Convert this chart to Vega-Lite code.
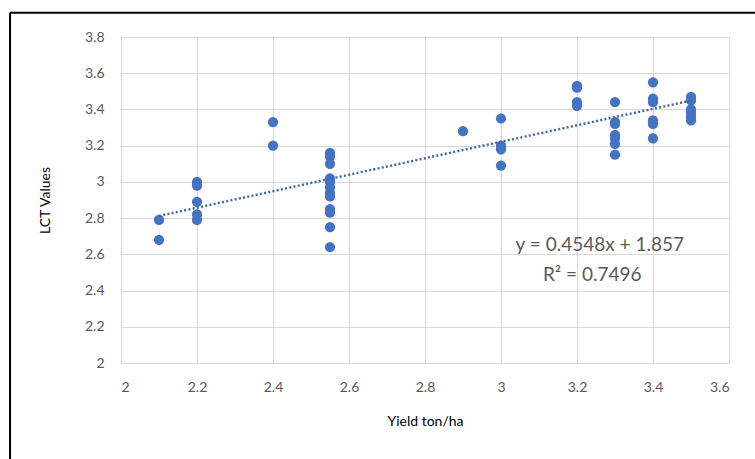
{
  "$schema": "https://vega.github.io/schema/vega-lite/v6.json",
  "width": 608,
  "height": 326,
  "autosize": "none",
  "padding": {"left": 121, "top": 37, "right": 26, "bottom": 96},
  "background": "white",
  "config": {
    "view": {"stroke": null},
    "font": "Lato",
    "axis": {
      "gridColor": "#d9d9d9",
      "gridWidth": 1,
      "domain": false,
      "ticks": false,
      "labelOverlap": false,
      "labelFont": "Lato",
      "labelFontSize": 14,
      "labelColor": "#595959",
      "titleFont": "Lato",
      "titleFontSize": 14,
      "titleFontWeight": "normal",
      "titleColor": "#000000"
    }
  },
  "datasets": {
    "pts": [
      {"yield": 2.1, "lct": 2.79}, {"yield": 2.1, "lct": 2.68},
      {"yield": 2.2, "lct": 3.00}, {"yield": 2.2, "lct": 2.98}, {"yield": 2.2, "lct": 2.89}, {"yield": 2.2, "lct": 2.82}, {"yield": 2.2, "lct": 2.79},
      {"yield": 2.4, "lct": 3.33}, {"yield": 2.4, "lct": 3.20},
      {"yield": 2.55, "lct": 3.16}, {"yield": 2.55, "lct": 3.14}, {"yield": 2.55, "lct": 3.10}, {"yield": 2.55, "lct": 3.02}, {"yield": 2.55, "lct": 3.00}, {"yield": 2.55, "lct": 2.97}, {"yield": 2.55, "lct": 2.94}, {"yield": 2.55, "lct": 2.92}, {"yield": 2.55, "lct": 2.85}, {"yield": 2.55, "lct": 2.83}, {"yield": 2.55, "lct": 2.75}, {"yield": 2.55, "lct": 2.64},
      {"yield": 2.9, "lct": 3.28},
      {"yield": 3.0, "lct": 3.35}, {"yield": 3.0, "lct": 3.20}, {"yield": 3.0, "lct": 3.18}, {"yield": 3.0, "lct": 3.09},
      {"yield": 3.2, "lct": 3.53}, {"yield": 3.2, "lct": 3.52}, {"yield": 3.2, "lct": 3.44}, {"yield": 3.2, "lct": 3.42},
      {"yield": 3.3, "lct": 3.44}, {"yield": 3.3, "lct": 3.33}, {"yield": 3.3, "lct": 3.32}, {"yield": 3.3, "lct": 3.26}, {"yield": 3.3, "lct": 3.24}, {"yield": 3.3, "lct": 3.21}, {"yield": 3.3, "lct": 3.15},
      {"yield": 3.4, "lct": 3.55}, {"yield": 3.4, "lct": 3.46}, {"yield": 3.4, "lct": 3.44}, {"yield": 3.4, "lct": 3.34}, {"yield": 3.4, "lct": 3.32}, {"yield": 3.4, "lct": 3.24},
      {"yield": 3.5, "lct": 3.47}, {"yield": 3.5, "lct": 3.45}, {"yield": 3.5, "lct": 3.40}, {"yield": 3.5, "lct": 3.38}, {"yield": 3.5, "lct": 3.36}, {"yield": 3.5, "lct": 3.34}
    ],
    "trend": [
      {"yield": 2.1, "lct": 2.812},
      {"yield": 3.5, "lct": 3.449}
    ],
    "labels": [
      {"yield": 3.26, "lct": 2.65, "text": "y = 0.4548x + 1.857"},
      {"yield": 3.24, "lct": 2.485, "text": "R² = 0.7496"}
    ],
    "frame": [
      {"x1": 1.708, "x2": 1.708, "y1": 3.934, "y2": 1.4},
      {"x1": 1.708, "x2": 3.75, "y1": 3.934, "y2": 3.934}
    ]
  },
  "layer": [
    {
      "data": {"name": "pts"},
      "mark": {"type": "point", "filled": true, "size": 105, "color": "#4472C4", "opacity": 1},
      "encoding": {
        "x": {
          "field": "yield", "type": "quantitative",
          "scale": {"domain": [2, 3.6], "nice": false, "zero": false},
          "axis": {
            "title": "Yield ton/ha",
            "values": [2, 2.2, 2.4, 2.6, 2.8, 3, 3.2, 3.4, 3.6],
            "tickCount": 20,
            "format": "~g",
            "labelPadding": 17,
            "titleBaseline": "middle",
            "titleY": 58,
            "titleX": 304
          }
        },
        "y": {
          "field": "lct", "type": "quantitative",
          "scale": {"domain": [2, 3.8], "nice": false, "zero": false},
          "axis": {
            "title": "LCT Values",
            "values": [2, 2.2, 2.4, 2.6, 2.8, 3, 3.2, 3.4, 3.6, 3.8],
            "tickCount": 20,
            "format": "~g",
            "labelPadding": 17,
            "titleBaseline": "middle",
            "titleX": -76,
            "titleY": 163
          }
        }
      }
    },
    {
      "data": {"name": "trend"},
      "mark": {"type": "line", "color": "#3a64ad", "strokeWidth": 2.4, "strokeDash": [2, 2.3]},
      "encoding": {
        "x": {"field": "yield", "type": "quantitative"},
        "y": {"field": "lct", "type": "quantitative"}
      }
    },
    {
      "data": {"name": "labels"},
      "mark": {"type": "text", "fontSize": 19, "color": "#595959", "align": "center", "baseline": "middle", "font": "Lato"},
      "encoding": {
        "x": {"field": "yield", "type": "quantitative"},
        "y": {"field": "lct", "type": "quantitative"},
        "text": {"field": "text"}
      }
    },
    {
      "data": {"name": "frame"},
      "mark": {"type": "rule", "color": "#000000", "strokeWidth": 2, "clip": false},
      "encoding": {
        "x": {"field": "x1", "type": "quantitative"},
        "x2": {"field": "x2"},
        "y": {"field": "y1", "type": "quantitative"},
        "y2": {"field": "y2"}
      }
    }
  ]
}
